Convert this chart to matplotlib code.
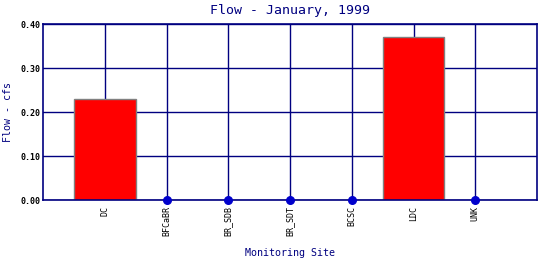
import matplotlib
matplotlib.use("Agg")
import matplotlib.pyplot as plt
import numpy as np

sites = ["DC", "BFCaBR", "BR_SDB", "BR_SDT", "BCSC", "LDC", "UNK"]
flow = [0.23, 0.0, 0.0, 0.0, 0.0, 0.37, 0.0]
yticks = [0.0, 0.1, 0.2, 0.3, 0.4]

navy = "#000080"
mono = "DejaVu Sans Mono"

fig = plt.figure(figsize=(5.4, 2.6), dpi=100)
ax = fig.add_axes([43 / 540, 1 - 200 / 260, 494 / 540, 176 / 260])

x = np.arange(len(sites))
vals = np.array(flow)

# grid lines
for yv in yticks:
    ax.axhline(yv, color=navy, lw=1, zorder=1)
for xv in x:
    ax.axvline(xv, color=navy, lw=1, zorder=1)

nz = vals > 0
ax.bar(x[nz], vals[nz], width=1.0, color="red", edgecolor="gray", linewidth=1, zorder=2)
ax.scatter(x[~nz], vals[~nz], s=30, color="#0000cc", zorder=3, clip_on=False)

ax.set_xlim(-1, len(sites))
ax.set_ylim(0, 0.4)
ax.set_yticks(yticks)
ax.set_yticklabels(["{:.2f}".format(v) for v in yticks], fontfamily=mono, fontsize=6,
                   fontweight="bold")
ax.set_xticks(x)
ax.set_xticklabels(sites, rotation=90, fontfamily=mono, fontsize=6)
ax.tick_params(axis="x", length=0, pad=4)
ax.tick_params(axis="y", length=0, pad=2)

for s in ax.spines.values():
    s.set_color(navy)
    s.set_linewidth(1.2)

ax.set_title("Flow - January, 1999", fontfamily=mono, fontsize=9.5, color=navy, pad=7)
ax.set_xlabel("Monitoring Site", fontfamily=mono, fontsize=7.2, color=navy)
ax.set_ylabel("Flow - cfs", fontfamily=mono, fontsize=7.2, color=navy)
ax.xaxis.set_label_coords(0.5, -48 / 176)
ax.yaxis.set_label_coords(-30 / 494, 0.5)

fig.savefig("out.png", dpi=100)
